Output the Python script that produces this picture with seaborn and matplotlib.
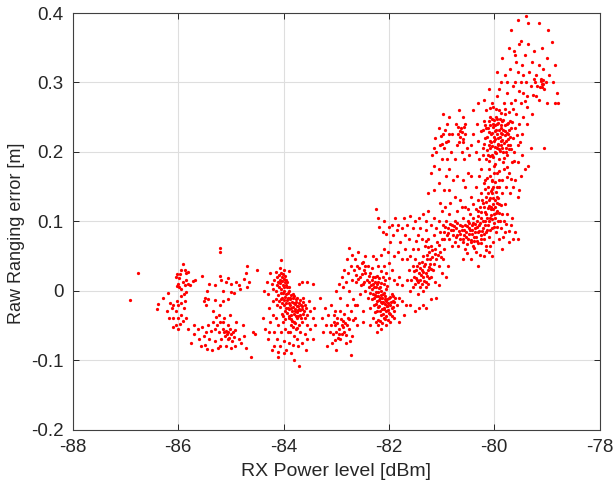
import numpy as np
import matplotlib
matplotlib.use("Agg")
import matplotlib.pyplot as plt
import pandas as pd
import seaborn as sns

# points, one list per blob: (rx power dBm, ranging error m)
stray = [(-86.92,-0.014),(-86.76,0.025),(-85.2,0.061),(-85.2,0.055),(-84.69,0.036),(-84.5,0.03),(-84.38,-0.0),
         (-84.62,-0.095),(-84.1,-0.095),(-83.8,-0.1),(-83.7,-0.108),(-84.55,-0.062),(-84.58,-0.06)]
blob_86 = [(-86.4,-0.027),(-86.38,-0.019),(-86.3,-0.01),(-86.2,-0.003),(-86.22,-0.03),(-86.15,-0.018),(-86.12,-0.025),
           (-86.1,-0.02),(-86.05,-0.03),(-86.02,-0.015),(-86.0,-0.02),(-85.95,-0.018),(-85.9,-0.025),(-85.88,-0.015),
           (-86.0,0.01),(-85.98,0.018),(-85.95,0.03),(-85.92,0.038),(-85.88,0.03),(-85.85,0.025),(-85.82,0.027),
           (-85.98,0.005),(-85.94,0.002),(-85.92,0.012),(-85.88,0.008),(-85.85,0.015),(-85.82,0.01),(-85.78,0.008),
           (-85.72,0.014),(-85.68,0.015),(-85.9,-0.005),(-85.86,-0.002),(-85.95,-0.008),(-86.03,0.007),(-86.04,0.02),
           (-86.02,0.024),(-85.96,0.024),(-86.1,-0.04),(-86.0,-0.04),(-85.95,-0.035),(-86.04,-0.05),(-86.0,-0.055),
           (-85.96,-0.048),(-85.92,-0.044),(-86.1,-0.052),(-85.82,-0.055),(-85.7,-0.05),(-86.17,-0.04),(-85.85,-0.04)]
blob_85 = [(-85.7,-0.062),(-85.75,-0.075),(-85.62,-0.055),(-85.6,-0.07),(-85.55,-0.052),(-85.52,-0.065),(-85.5,-0.078),
           (-85.47,-0.06),(-85.44,-0.05),(-85.42,-0.07),(-85.38,-0.058),(-85.36,-0.085),(-85.35,-0.045),(-85.3,-0.055),
           (-85.3,-0.072),(-85.27,-0.05),(-85.25,-0.082),(-85.22,-0.06),(-85.2,-0.045),(-85.18,-0.07),(-85.15,-0.055),
           (-85.13,-0.06),(-85.12,-0.065),(-85.1,-0.058),(-85.08,-0.063),(-85.06,-0.07),(-85.05,-0.06),(-85.03,-0.068),
           (-85.02,-0.055),(-85.0,-0.062),(-84.98,-0.072),(-84.96,-0.06),(-84.94,-0.067),(-84.92,-0.056),(-85.15,-0.045),
           (-85.1,-0.08),(-85.05,-0.05),(-85.0,-0.082),(-84.85,-0.07),(-84.8,-0.075),(-84.78,-0.05),(-84.75,-0.065),
           (-85.35,-0.03),(-85.28,-0.038),(-85.22,-0.035),(-85.13,-0.04),(-85.02,-0.035),(-84.9,-0.045),(-84.92,-0.08),
           (-85.45,-0.084),(-85.56,-0.08),(-85.2,-0.08),(-84.72,-0.083)]
upper_85 = [(-85.55,0.021),(-85.42,0.01),(-85.45,0.0),(-85.5,-0.01),(-85.52,-0.015),(-85.47,-0.02),(-85.44,-0.012),
            (-85.3,0.008),(-85.2,0.021),(-85.18,0.015),(-85.15,0.0),(-85.1,0.012),(-85.05,0.018),(-85.0,0.01),
            (-85.0,-0.002),(-84.95,-0.004),(-84.9,0.012),(-84.85,0.008),(-84.82,0.002),(-84.75,0.017),(-84.72,0.025),
            (-84.65,0.012),(-84.7,0.005),(-85.15,-0.015),(-85.2,-0.02),(-85.05,-0.012),(-85.3,-0.013)]
blob_84 = [(-84.4,-0.04),(-84.35,-0.055),(-84.32,0.012),(-84.3,-0.005),(-84.28,-0.025),(-84.25,0.025),(-84.22,0.01),
           (-84.2,0.003),(-84.2,-0.015),(-84.18,0.015),(-84.15,0.027),(-84.14,-0.0),(-84.12,0.02),(-84.1,0.013),
           (-84.1,-0.006),(-84.08,0.005),(-84.06,0.015),(-84.05,-0.003),(-84.03,0.02),(-84.02,0.008),(-84.0,0.0),
           (-83.98,0.012),(-83.96,-0.005),(-83.95,0.015),(-83.93,0.005),(-83.92,-0.01),(-83.9,-0.0),(-84.15,-0.012),
           (-84.12,-0.02),(-84.08,-0.015),(-84.03,-0.01),(-84.0,-0.02),(-83.95,-0.025),(-83.9,-0.018),(-83.87,-0.01),
           (-83.85,-0.025),(-83.83,-0.005),(-83.8,-0.018),(-83.78,-0.03),(-83.76,-0.012),(-83.75,-0.022),(-83.72,-0.028),
           (-83.7,-0.018),(-83.68,-0.035),(-83.65,-0.022),(-83.63,-0.01),(-83.62,-0.03),(-83.6,-0.02),(-83.58,-0.025),
           (-83.55,-0.035),(-83.52,-0.015),(-83.5,-0.03),(-83.9,-0.04),(-83.85,-0.035),(-83.8,-0.045),(-83.75,-0.04),
           (-83.7,-0.05),(-83.65,-0.045),(-83.6,-0.04),(-83.55,-0.05),(-84.25,-0.045),(-84.2,-0.035),(-84.18,-0.06),
           (-84.15,-0.04),(-84.13,-0.07),(-84.1,-0.05),(-84.07,-0.08),(-84.05,-0.06),(-84.02,-0.045),(-84.0,-0.072),
           (-83.97,-0.055),(-83.95,-0.085),(-83.92,-0.06),(-83.9,-0.075),(-83.87,-0.06),(-83.85,-0.05),(-83.83,-0.078),
           (-83.8,-0.065),(-83.77,-0.055),(-83.75,-0.07),(-83.72,-0.08),(-83.68,-0.06),(-83.65,-0.075),(-83.6,-0.062),
           (-83.58,-0.085),(-83.55,-0.07),(-83.5,-0.055),(-83.45,-0.07),(-84.3,-0.07),(-84.27,-0.06),(-84.22,-0.085),
           (-84.18,-0.08),(-84.1,-0.088),(-84.0,-0.09),(-83.85,-0.09),(-83.45,-0.04),(-83.42,-0.025),(-83.4,-0.05),
           (-83.7,0.01),(-83.65,0.012),(-83.55,0.013),(-83.45,0.01),(-84.07,0.033),(-84.04,0.044),(-84.0,0.03),(-83.9,0.028)]
core_84 = [(-84.117,0.008),(-84.093,0.022),(-84.071,0.011),(-84.052,0.026),(-84.047,0.003),(-84.033,0.014),(-84.018,0.024),
           (-84.012,-0.004),(-83.993,0.017),(-83.987,0.006),(-83.972,0.021),(-83.968,-0.009),(-83.947,0.008),(-83.941,-0.014),
           (-83.927,0.012),(-83.912,-0.004),(-83.897,0.006),(-83.884,-0.012),(-83.872,-0.021),(-83.861,-0.006),(-83.847,-0.016),
           (-83.838,-0.029),(-83.823,-0.011),(-83.817,-0.023),(-83.804,-0.034),(-83.793,-0.008),(-83.786,-0.019),(-83.774,-0.027),
           (-83.768,-0.037),(-83.757,-0.016),(-83.743,-0.031),(-83.738,-0.011),(-83.726,-0.022),(-83.717,-0.036),(-83.708,-0.026),
           (-83.694,-0.014),(-83.686,-0.028),(-83.672,-0.021),(-83.664,-0.039),(-83.653,-0.027),(-83.641,-0.016),(-83.632,-0.034),
           (-83.973,-0.029),(-83.954,-0.018),(-83.937,-0.032),(-83.921,-0.025),(-83.904,-0.036),(-83.889,-0.027),(-83.866,-0.041),
           (-83.843,-0.044),(-83.812,-0.052),(-83.782,-0.047),(-83.752,-0.054),(-84.056,-0.012),(-84.022,-0.018),(-83.992,-0.014),
           (-84.072,-0.024),(-84.038,-0.033),(-84.008,-0.036),(-83.981,-0.041)]
blob_83 = [(-83.3,-0.01),(-83.28,-0.04),(-83.25,-0.06),(-83.22,-0.025),(-83.2,-0.05),(-83.18,-0.08),(-83.15,-0.035),
           (-83.12,-0.06),(-83.1,-0.02),(-83.08,-0.075),(-83.05,-0.045),(-83.03,-0.03),(-83.0,-0.06),(-83.0,-0.085),
           (-82.98,-0.04),(-82.95,-0.055),(-82.93,-0.07),(-82.92,-0.03),(-82.9,-0.05),(-82.88,-0.043),(-82.85,-0.06),
           (-82.85,-0.033),(-82.82,-0.075),(-82.8,-0.05),(-82.8,-0.02),(-82.78,-0.04),(-82.75,-0.055),(-82.72,-0.093),
           (-82.72,-0.03),(-82.7,-0.065),(-83.1,-0.05),(-83.06,-0.062),(-83.02,-0.05),(-82.97,-0.068),(-83.05,-0.035),
           (-83.0,0.0),(-82.95,0.01),(-82.93,-0.01),(-82.9,0.02),(-82.87,0.005),(-82.85,0.03),(-82.82,0.012),(-82.8,0.045),
           (-82.78,0.025),(-82.75,0.062),(-82.75,0.0),(-82.72,0.035),(-82.7,0.052),(-82.7,0.015),(-82.68,-0.012),
           (-82.66,0.03),(-82.65,0.045),(-82.62,0.012),(-82.6,0.035),(-82.6,-0.02),(-82.58,0.055),(-82.55,0.02),
           (-82.55,-0.005),(-82.52,0.04),(-82.5,0.01),(-82.5,-0.03),(-82.48,0.03),(-82.45,0.05),(-82.45,0.0),
           (-82.65,-0.04),(-82.6,-0.05),(-82.978,-0.047),(-82.943,-0.062),(-82.917,-0.041),(-82.893,-0.063),(-82.864,-0.052),
           (-83.024,-0.071),(-82.837,-0.047),(-82.807,-0.064),(-82.764,-0.041),(-82.738,-0.072),(-82.688,-0.042),(-82.642,-0.021),
           (-82.627,0.023),(-82.593,0.017),(-82.574,0.033),(-82.536,0.008),(-82.513,0.024),(-82.492,0.042),(-82.474,0.012),(-82.463,0.036)]
blob_82 = [(-82.45,0.025),(-82.42,0.015),(-82.4,0.035),(-82.4,-0.01),(-82.38,0.005),(-82.36,0.025),(-82.35,-0.025),
           (-82.33,0.015),(-82.32,0.032),(-82.3,-0.005),(-82.3,0.01),(-82.28,-0.02),(-82.27,0.02),(-82.25,-0.008),
           (-82.25,0.005),(-82.23,-0.03),(-82.22,-0.015),(-82.2,0.012),(-82.2,-0.002),(-82.18,-0.022),(-82.17,-0.01),
           (-82.15,0.0),(-82.15,-0.035),(-82.13,-0.018),(-82.12,-0.005),(-82.1,-0.025),(-82.1,0.01),(-82.08,-0.012),
           (-82.06,-0.03),(-82.05,-0.015),(-82.05,0.003),(-82.03,-0.022),(-82.0,-0.01),(-82.0,-0.032),(-81.98,-0.02),
           (-81.95,-0.025),(-81.95,-0.005),(-81.92,-0.015),(-81.9,-0.03),(-81.88,-0.01),(-81.85,-0.02),(-82.25,-0.045),
           (-82.2,-0.05),(-82.15,-0.055),(-82.1,-0.04),(-82.05,-0.05),(-81.97,-0.045),(-81.9,-0.04),(-82.3,-0.04),
           (-82.35,-0.05),(-82.22,-0.06),(-81.8,-0.045),(-81.72,-0.035),(-81.8,-0.01),(-81.75,-0.015),(-81.68,-0.02),
           (-82.3,0.05),(-82.25,0.045),(-82.2,0.035),(-82.15,0.028),(-82.1,0.035),(-82.05,0.025),(-82.0,0.018),
           (-81.95,0.03),(-81.9,0.015),(-81.85,0.01),(-81.8,0.02),(-81.75,0.008),(-82.5,-0.045),(-82.0,0.04),(-82.12,0.02)]
core_82 = [(-82.387,0.021),(-82.372,0.012),(-82.358,-0.004),(-82.343,0.008),(-82.327,-0.012),(-82.318,0.003),(-82.304,0.019),
           (-82.292,-0.011),(-82.283,0.006),(-82.271,-0.006),(-82.262,0.013),(-82.247,-0.019),(-82.238,-0.002),(-82.228,0.009),
           (-82.216,-0.024),(-82.207,-0.008),(-82.196,0.004),(-82.187,-0.014),(-82.176,-0.029),(-82.168,0.006),(-82.157,-0.017),
           (-82.146,-0.006),(-82.138,-0.026),(-82.127,-0.011),(-82.118,-0.034),(-82.106,-0.016),(-82.094,-0.004),(-82.087,-0.027),
           (-82.076,-0.019),(-82.067,-0.008),(-82.053,-0.036),(-82.042,-0.022),(-82.028,-0.012),(-82.017,-0.028),(-82.008,-0.018),
           (-81.988,-0.009),(-81.973,-0.033),(-81.962,-0.016),(-81.942,-0.036),(-81.931,-0.008),(-81.913,-0.023),(-81.896,-0.017),
           (-82.224,0.021),(-82.186,0.018),(-82.142,0.011),(-82.083,0.016),(-82.032,0.007),(-82.262,-0.031),(-82.214,-0.042),
           (-82.168,-0.044),(-82.123,-0.047),(-82.079,-0.041),(-82.022,-0.042)]
blob_815 = [(-81.65,0.015),(-81.62,0.03),(-81.6,-0.0),(-81.6,0.05),(-81.58,0.015),(-81.55,0.035),(-81.55,0.005),
            (-81.53,0.02),(-81.5,0.045),(-81.5,0.01),(-81.48,0.03),(-81.46,0.015),(-81.45,0.06),(-81.45,-0.005),
            (-81.43,0.025),(-81.42,0.04),(-81.4,0.015),(-81.4,0.005),(-81.38,0.03),(-81.36,0.05),(-81.35,0.02),
            (-81.35,0.0),(-81.33,0.035),(-81.32,0.065),(-81.3,0.012),(-81.3,0.025),(-81.28,0.045),(-81.26,0.03),
            (-81.25,0.01),(-81.25,0.075),(-81.23,0.055),(-81.22,0.038),(-81.2,0.02),(-81.2,0.065),(-81.18,0.048),
            (-81.16,0.03),(-81.15,0.08),(-81.13,0.06),(-81.12,0.012),(-81.1,0.045),(-81.08,0.07),(-81.05,0.035),
            (-81.03,0.055),(-81.0,0.025),(-81.0,0.075),(-80.97,0.045),(-80.95,0.06),(-81.35,-0.02),(-81.3,-0.025),
            (-81.42,-0.025),(-81.2,-0.012),(-81.1,-0.01),(-81.6,-0.02),(-81.5,-0.03),(-81.05,0.008),(-80.92,0.02),
            (-80.88,0.035),(-81.55,0.06),(-81.45,0.08),(-81.38,0.075),(-81.3,0.088),(-81.65,0.045),(-81.7,0.06),
            (-81.516,0.028),(-81.492,0.018),(-81.473,0.036),(-81.438,0.012),(-81.414,0.032),(-81.392,0.022),(-81.372,0.009),
            (-81.367,0.041),(-81.343,0.027),(-81.326,0.014),(-81.312,0.038),(-81.293,0.006),(-81.274,0.021),(-81.268,0.052),
            (-81.243,0.034),(-81.238,0.018),(-81.214,0.046),(-81.192,0.031),(-81.173,0.058),(-81.146,0.039),(-81.124,0.053),
            (-81.262,0.063),(-81.288,0.072),(-81.074,0.052),(-81.042,0.066),(-81.012,0.048)]
upper_82 = [(-82.25,0.118),(-82.2,0.105),(-82.18,0.092),(-82.12,0.085),(-82.1,0.1),(-82.05,0.082),(-82.0,0.092),(-81.98,0.07),
            (-81.95,0.095),(-81.92,0.08),(-81.88,0.105),(-81.85,0.088),(-81.82,0.095),(-81.78,0.07),(-81.75,0.09),
            (-81.72,0.105),(-81.7,0.08),(-81.65,0.095),(-81.62,0.075),(-81.6,0.108),(-81.55,0.09),(-81.5,0.1),
            (-81.48,0.072),(-81.42,0.105),(-81.4,0.09),(-81.35,0.11),(-81.3,0.1),(-81.25,0.115),(-81.2,0.095),
            (-81.15,0.105),(-82.1,0.06),(-82.15,0.052),(-82.02,0.055),(-81.9,0.05),(-81.82,0.055),(-81.75,0.045)]
blob_805 = [(-81.1,0.09),(-81.05,0.1),(-81.02,0.085),(-81.0,0.115),(-80.98,0.095),(-80.95,0.075),(-80.95,0.085),(-80.92,0.1),
            (-80.9,0.08),(-80.88,0.09),(-80.85,0.075),(-80.85,0.11),(-80.82,0.088),(-80.8,0.095),(-80.8,0.065),(-80.78,0.08),
            (-80.75,0.1),(-80.75,0.07),(-80.72,0.09),(-80.7,0.08),(-80.7,0.115),(-80.68,0.065),(-80.65,0.095),(-80.65,0.075),
            (-80.62,0.088),(-80.6,0.105),(-80.6,0.07),(-80.58,0.08),(-80.55,0.095),(-80.55,0.06),(-80.53,0.085),(-80.5,0.075),
            (-80.5,0.1),(-80.48,0.09),(-80.46,0.11),(-80.45,0.07),(-80.43,0.082),(-80.42,0.095),(-80.4,0.065),(-80.4,0.105),
            (-80.38,0.078),(-80.36,0.09),(-80.35,0.055),(-80.33,0.1),(-80.32,0.072),(-80.3,0.085),(-80.3,0.115),(-80.28,0.095),
            (-80.26,0.068),(-80.25,0.08),(-80.25,0.105),(-80.22,0.09),(-80.2,0.075),(-80.2,0.12),(-80.18,0.1),(-80.16,0.085),
            (-80.15,0.065),(-80.15,0.11),(-80.12,0.095),(-80.1,0.13),(-80.1,0.078),(-80.08,0.105),(-80.06,0.118),(-80.05,0.09),
            (-80.05,0.14),(-80.03,0.125),(-80.02,0.07),(-80.0,0.11),(-80.0,0.098),(-79.98,0.13),(-79.96,0.085),(-79.95,0.115),
            (-79.95,0.15),(-79.92,0.1),(-79.9,0.125),(-79.9,0.075),(-79.88,0.09),(-79.86,0.11),(-79.85,0.06),(-79.82,0.1),
            (-79.8,0.085),(-79.75,0.11),(-79.72,0.07),(-79.68,0.095),(-79.65,0.075),(-79.6,0.085),(-79.55,0.075),
            (-80.3,0.13),(-80.25,0.14),(-80.2,0.155),(-80.15,0.135),(-80.12,0.15),(-80.08,0.165),(-80.02,0.15),(-80.0,0.17),
            (-79.95,0.135),(-79.9,0.16),(-79.85,0.14),(-80.4,0.125),(-80.45,0.135),(-80.55,0.12),(-80.65,0.13),(-80.75,0.135),
            (-80.35,0.15),(-80.28,0.165),(-80.2,0.05),(-80.1,0.055),(-80.45,0.045),(-80.6,0.045),(-80.3,0.035),(-80.05,0.05)]
core_805 = [(-80.936,0.091),(-80.872,0.083),(-80.836,0.096),(-80.792,0.087),(-80.764,0.093),(-80.733,0.078),(-80.707,0.097),
            (-80.674,0.086),(-80.643,0.081),(-80.613,0.093),(-80.587,0.074),(-80.566,0.088),(-80.542,0.078),(-80.524,0.093),
            (-80.508,0.067),(-80.487,0.082),(-80.472,0.097),(-80.453,0.088),(-80.438,0.073),(-80.417,0.087),(-80.404,0.098),
            (-80.392,0.071),(-80.373,0.084),(-80.358,0.096),(-80.342,0.078),(-80.327,0.091),(-80.313,0.107),(-80.304,0.068),
            (-80.286,0.086),(-80.271,0.098),(-80.257,0.075),(-80.242,0.113),(-80.233,0.086),(-80.217,0.101),(-80.206,0.127),
            (-80.193,0.082),(-80.184,0.114),(-80.173,0.094),(-80.161,0.128),(-80.146,0.104),(-80.137,0.087),(-80.123,0.119),
            (-80.116,0.141),(-80.104,0.101),(-80.093,0.122),(-80.084,0.088),(-80.072,0.133),(-80.064,0.109),(-80.052,0.121),
            (-80.041,0.103),(-80.036,0.146),(-80.022,0.117),(-80.014,0.133),(-80.007,0.092),(-79.992,0.121),(-79.984,0.104),
            (-79.973,0.142),(-79.964,0.112),(-79.947,0.126),(-79.938,0.092),(-79.923,0.134),(-79.912,0.112),(-79.894,0.101),
            (-80.067,0.143),(-80.128,0.162),(-80.047,0.158),(-80.176,0.146),(-79.983,0.156),(-80.224,0.131),(-80.269,0.121),
            (-80.344,0.117),(-80.492,0.118),(-80.614,0.121),(-80.838,0.126),(-80.933,0.12),(-81.024,0.126),(-79.778,0.096),
            (-79.832,0.078),(-79.724,0.086),(-79.664,0.104),(-79.869,0.123),(-80.083,0.064),(-80.163,0.058),(-80.378,0.061),
            (-80.514,0.054),(-80.276,0.052)]
blob_808 = [(-81.2,0.17),(-81.18,0.195),(-81.15,0.18),(-81.12,0.22),(-81.1,0.2),(-81.05,0.175),(-81.05,0.235),(-81.02,0.21),
            (-81.0,0.19),(-80.98,0.255),(-80.97,0.225),(-80.95,0.205),(-80.92,0.165),(-80.9,0.24),(-80.9,0.19),(-80.88,0.215),
            (-80.85,0.175),(-80.85,0.25),(-80.82,0.2),(-80.8,0.225),(-80.78,0.16),(-80.75,0.19),(-80.72,0.24),(-80.7,0.21),
            (-80.68,0.225),(-80.67,0.26),(-80.65,0.23),(-80.63,0.235),(-80.62,0.2),(-80.6,0.218),(-80.6,0.25),(-80.57,0.19),
            (-80.55,0.225),(-80.55,0.24),(-80.52,0.205),(-80.5,0.17),(-80.48,0.195),(-80.45,0.21),(-81.25,0.14),(-81.15,0.145),
            (-81.05,0.155),(-80.95,0.145),(-80.85,0.145),(-80.7,0.165),(-80.6,0.16),(-80.55,0.15),(-80.45,0.165),
            (-81.014,0.223),(-80.987,0.212),(-80.936,0.232),(-80.913,0.214),(-80.867,0.226),(-80.642,0.222),(-80.612,0.229),
            (-80.586,0.214),(-80.573,0.236),(-81.134,0.205),(-80.694,0.236),(-80.663,0.214)]
blob_80 = [(-80.4,0.225),(-80.35,0.2),(-80.32,0.24),(-80.3,0.215),(-80.28,0.19),(-80.25,0.23),(-80.22,0.205),(-80.2,0.245),
           (-80.18,0.22),(-80.15,0.19),(-80.15,0.26),(-80.12,0.235),(-80.1,0.21),(-80.08,0.25),(-80.06,0.225),(-80.05,0.195),
           (-80.03,0.24),(-80.02,0.265),(-80.0,0.215),(-80.0,0.18),(-79.98,0.23),(-79.97,0.25),(-79.95,0.205),(-79.94,0.24),
           (-79.92,0.22),(-79.9,0.19),(-79.9,0.26),(-79.88,0.235),(-79.87,0.21),(-79.85,0.225),(-79.85,0.245),(-79.83,0.2),
           (-79.82,0.175),(-79.8,0.23),(-79.8,0.255),(-79.78,0.215),(-79.76,0.24),(-79.75,0.195),(-79.73,0.225),(-79.72,0.17),
           (-79.7,0.21),(-79.7,0.245),(-79.68,0.235),(-79.66,0.185),(-79.65,0.22),(-79.62,0.2),(-79.6,0.235),(-79.6,0.16),
           (-79.58,0.255),(-79.55,0.21),(-79.55,0.185),(-79.52,0.24),(-79.5,0.165),(-79.48,0.195),(-79.45,0.25),(-79.42,0.175),
           (-79.38,0.24),(-79.35,0.18),(-79.3,0.205),(-79.28,0.255),(-80.25,0.175),(-80.18,0.16),(-80.1,0.175),(-80.05,0.16),
           (-79.95,0.17),(-79.85,0.16),(-79.78,0.15),(-79.7,0.14),(-79.65,0.15),(-79.55,0.135),(-79.52,0.145),(-79.8,0.125),
           (-79.05,0.205),(-80.4,0.26),(-80.3,0.27),(-80.2,0.275),(-80.1,0.29),(-80.05,0.27),(-79.95,0.28),(-79.88,0.3),
           (-79.82,0.27),(-79.75,0.285),(-79.68,0.27),(-79.6,0.275),(-79.5,0.27),(-79.45,0.285),(-79.38,0.265),(-79.9,0.15),
           (-79.92,0.21),(-79.78,0.2),(-79.98,0.2),(-80.08,0.215),(-79.88,0.215),(-79.74,0.21),(-80.12,0.195)]
core_80 = [(-80.213,0.232),(-80.191,0.212),(-80.168,0.238),(-80.142,0.221),(-80.133,0.203),(-80.108,0.244),(-80.094,0.228),
           (-80.086,0.206),(-80.073,0.238),(-80.061,0.214),(-80.048,0.248),(-80.042,0.227),(-80.034,0.208),(-80.023,0.236),
           (-80.012,0.222),(-80.006,0.246),(-79.993,0.207),(-79.988,0.238),(-79.976,0.218),(-79.967,0.232),(-79.962,0.198),
           (-79.953,0.248),(-79.946,0.226),(-79.934,0.212),(-79.928,0.241),(-79.916,0.231),(-79.907,0.204),(-79.898,0.222),
           (-79.892,0.248),(-79.884,0.201),(-79.876,0.227),(-79.864,0.238),(-79.858,0.206),(-79.846,0.217),(-79.838,0.232),
           (-79.827,0.246),(-79.814,0.213),(-79.806,0.191),(-79.794,0.224),(-79.787,0.238),(-79.772,0.206),(-79.764,0.227),
           (-79.746,0.218),(-79.738,0.241),(-79.722,0.204),(-79.714,0.232),(-79.694,0.222),(-79.672,0.204),(-79.664,0.243),
           (-80.152,0.234),(-80.072,0.194),(-79.982,0.182),(-79.902,0.172),(-79.824,0.185),(-79.752,0.178),(-80.022,0.192),
           (-80.107,0.187),(-80.216,0.196),(-79.968,0.262),(-79.873,0.256),(-79.786,0.262),(-80.072,0.263),(-79.721,0.258),
           (-79.642,0.262),(-79.574,0.224),(-79.512,0.214),(-79.467,0.226),(-79.626,0.187),(-79.688,0.161),(-79.764,0.164)]
top_79 = [(-79.95,0.315),(-79.9,0.29),(-79.85,0.335),(-79.8,0.31),(-79.75,0.3),(-79.72,0.35),(-79.7,0.32),(-79.68,0.375),
          (-79.65,0.295),(-79.62,0.345),(-79.6,0.3),(-79.58,0.33),(-79.55,0.315),(-79.55,0.39),(-79.52,0.355),(-79.5,0.3),
          (-79.48,0.325),(-79.45,0.31),(-79.42,0.34),(-79.4,0.3),(-79.4,0.395),(-79.38,0.28),(-79.35,0.355),(-79.33,0.315),
          (-79.3,0.295),(-79.28,0.33),(-79.25,0.305),(-79.22,0.3),(-79.2,0.31),(-79.2,0.28),(-79.18,0.295),(-79.15,0.325),
          (-79.12,0.305),(-79.1,0.298),(-79.1,0.35),(-79.08,0.32),(-79.05,0.29),(-79.02,0.3),(-79.0,0.335),(-78.98,0.375),
          (-78.95,0.31),(-78.9,0.358),(-78.88,0.3),(-78.85,0.325),(-78.8,0.285),(-78.78,0.27),(-78.85,0.27),(-79.0,0.27),
          (-79.35,0.385),(-79.5,0.36),(-79.15,0.385),(-79.25,0.345),(-79.6,0.34),(-79.127,0.293),(-79.114,0.302),(-79.092,0.294),
          (-79.076,0.303),(-79.064,0.297),(-79.158,0.274),(-79.266,0.282),(-79.417,0.273),(-79.536,0.288)]

blobs = [stray, blob_86, blob_85, upper_85, blob_84, core_84, blob_83, blob_82, core_82, blob_815,
         upper_82, blob_805, core_805, blob_808, blob_80, core_80, top_79]
x_ticks = [-88, -86, -84, -82, -80, -78]
y_ticks = [-0.2, -0.1, 0, 0.1, 0.2, 0.3, 0.4]
y_labels = ["-0.2", "-0.1", "0", "0.1", "0.2", "0.3", "0.4"]

points = pd.DataFrame([p for b in blobs for p in b], columns=["rx", "err"])

sns.set_style("whitegrid")
plt.rcParams['font.family'] = ['Liberation Sans', 'DejaVu Sans']

fig = plt.figure(figsize=(6.14, 4.86), dpi=100)
ax = fig.add_axes([73/614, 1-429.5/486, 526.5/614, 416.5/486])
sns.scatterplot(data=points, x="rx", y="err", color="#ff0000", s=5.5, linewidth=0, ax=ax, zorder=3)

ax.set_xlim(-88, -78)
ax.set_ylim(-0.2, 0.4)
ax.set_xticks(x_ticks)
ax.set_xticklabels([str(t) for t in x_ticks])
ax.set_yticks(y_ticks)
ax.set_yticklabels(y_labels)
ax.grid(True, color="#dedede", linewidth=0.8)
ax.tick_params(direction="in", length=4, width=0.7, color="#262626", labelsize=13.5,
               labelcolor="#262626", top=True, right=True, bottom=True, left=True)
ax.tick_params(axis="x", pad=7)
ax.tick_params(axis="y", pad=7)
for s in ax.spines.values():
    s.set_color("#404040")
    s.set_linewidth(0.8)
ax.set_xlabel("RX Power level [dBm]", fontsize=14, color="#262626", labelpad=5)
ax.set_ylabel("Raw Ranging error [m]", fontsize=13, color="#262626", labelpad=4, y=0.47)

fig.savefig("out.png", dpi=100)
